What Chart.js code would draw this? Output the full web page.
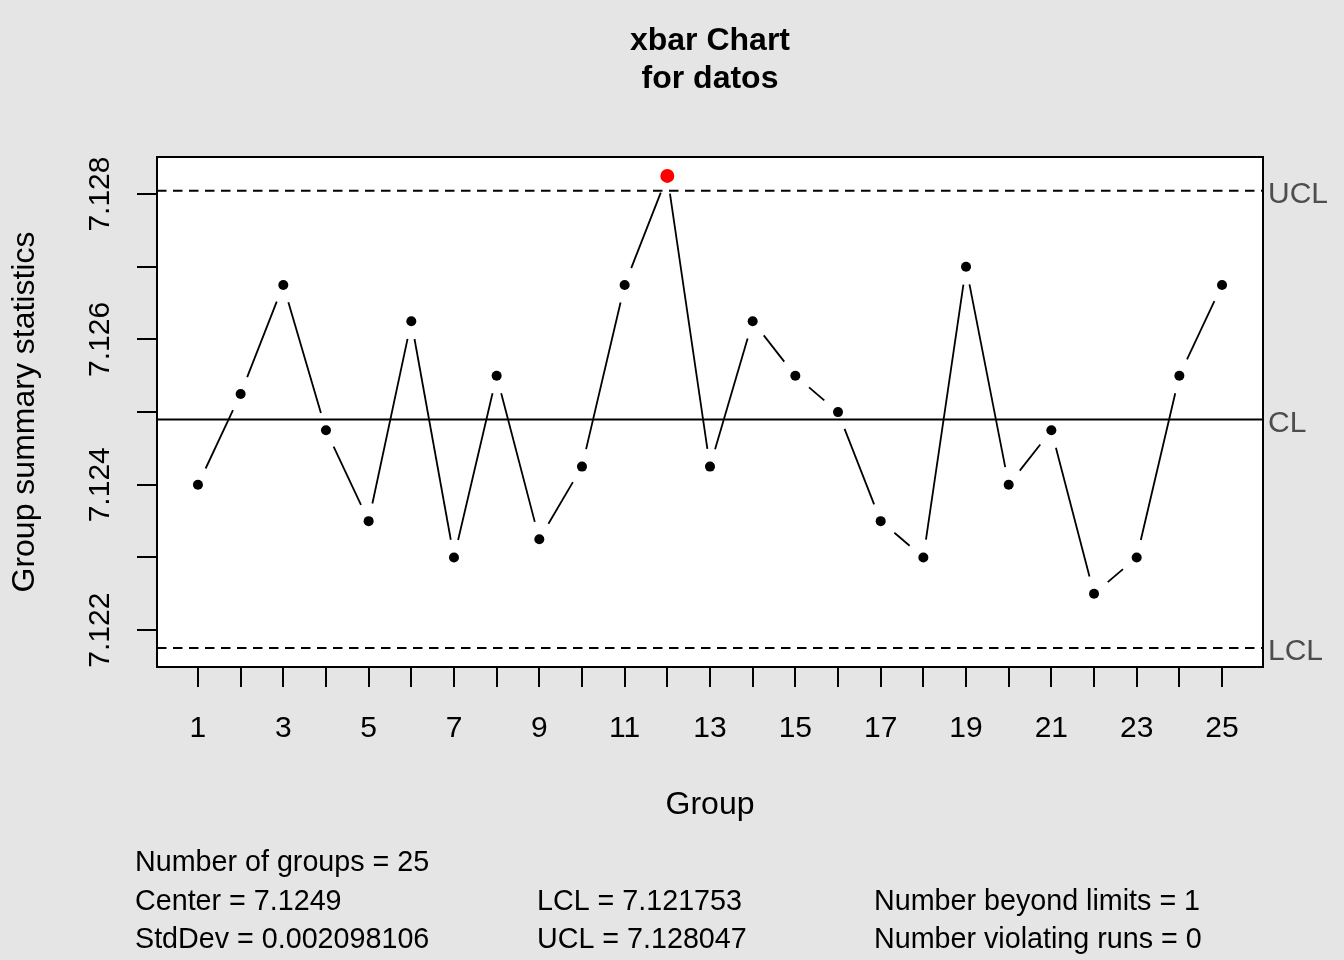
<!DOCTYPE html>
<html><head><meta charset="utf-8">
<script src="https://cdn.jsdelivr.net/npm/chart.js@4"></script>
<style>html,body{margin:0;padding:0;background:#e5e5e5;overflow:hidden;} #wrap{width:1344px;height:960px;}</style>
</head><body><div id="wrap"><canvas id="c" width="1344" height="960"></canvas></div>
<script>
// ---- data ----
const groups = [1,2,3,4,5,6,7,8,9,10,11,12,13,14,15,16,17,18,19,20,21,22,23,24,25];
const groupMeans = [7.124, 7.12525, 7.12675, 7.12475, 7.1235, 7.12625, 7.123, 7.1255, 7.12325, 7.12425,
                    7.12675, 7.12825, 7.12425, 7.12625, 7.1255, 7.125, 7.1235, 7.123, 7.127, 7.124,
                    7.12475, 7.1225, 7.123, 7.1255, 7.12675];
const centerValue = 7.1249;
const lclValue = 7.121753;
const uclValue = 7.128047;
const limitLabels = ['UCL', 'CL', 'LCL'];
const xTickValues = [1,2,3,4,5,6,7,8,9,10,11,12,13,14,15,16,17,18,19,20,21,22,23,24,25];
const xTickLabels = ['1','','3','','5','','7','','9','','11','','13','','15','','17','','19','','21','','23','','25'];
const yTickValues = [7.122, 7.123, 7.124, 7.125, 7.126, 7.127, 7.128];
const yTickLabels = ['7.122', '', '7.124', '', '7.126', '', '7.128'];
const titleLines = ['xbar Chart', 'for datos'];
const xAxisTitle = 'Group';
const yAxisTitle = 'Group summary statistics';
const statsCol1 = ['Number of groups = 25', 'Center = 7.1249', 'StdDev = 0.002098106'];
const statsCol2 = ['', 'LCL = 7.121753', 'UCL = 7.128047'];
const statsCol3 = ['', 'Number beyond limits = 1', 'Number violating runs = 0'];

// ---- ranges (R style 4% extension) ----
const xMin = groups[0] - 0.04 * (groups[groups.length-1] - groups[0]);
const xMax = groups[groups.length-1] + 0.04 * (groups[groups.length-1] - groups[0]);
const yLo = Math.min(lclValue, ...groupMeans), yHi = Math.max(uclValue, ...groupMeans);
const yMin = yLo - 0.04 * (yHi - yLo), yMax = yHi + 0.04 * (yHi - yLo);

const FONT = '"Liberation Sans", Arial, sans-serif';
const beyond = groupMeans.map(v => v > uclValue || v < lclValue);

const bgPlugin = {
  id: 'bg',
  beforeDraw(chart) {
    const {ctx, chartArea: a} = chart;
    ctx.save();
    ctx.fillStyle = '#e5e5e5';
    ctx.fillRect(0, 0, chart.width, chart.height);
    ctx.fillStyle = '#ffffff';
    ctx.fillRect(a.left, a.top, a.right - a.left, a.bottom - a.top);
    ctx.restore();
  },
  beforeDatasetsDraw(chart) {
    // connecting segments with gaps around points (R type "b")
    const meta = chart.getDatasetMeta(0);
    const pts = meta.data;
    const {ctx, chartArea: a} = chart;
    ctx.save();
    ctx.beginPath();
    ctx.rect(a.left, a.top, a.right - a.left, a.bottom - a.top);
    ctx.clip();
    ctx.strokeStyle = '#000';
    ctx.lineWidth = 1.8;
    const gap = 18;
    for (let i = 0; i < pts.length - 1; i++) {
      const p = pts[i], q = pts[i+1];
      const dx = q.x - p.x, dy = q.y - p.y;
      const L = Math.hypot(dx, dy);
      if (L <= 2 * gap) continue;
      const ux = dx / L, uy = dy / L;
      ctx.beginPath();
      ctx.moveTo(p.x + ux * gap, p.y + uy * gap);
      ctx.lineTo(q.x - ux * gap, q.y - uy * gap);
      ctx.stroke();
    }
    ctx.restore();
  },
  afterDraw(chart) {
    const {ctx, chartArea: a} = chart;
    const xs = chart.scales.x, ys = chart.scales.y;
    ctx.save();
    // box
    ctx.strokeStyle = '#000';
    ctx.lineWidth = 2;
    ctx.strokeRect(a.left, a.top, a.right - a.left, a.bottom - a.top);
    // title
    ctx.fillStyle = '#000';
    ctx.textAlign = 'center';
    ctx.textBaseline = 'middle';
    ctx.font = 'bold 32px ' + FONT;
    const cx = (a.left + a.right) / 2;
    ctx.fillText(titleLines[0], cx, 41);
    ctx.fillText(titleLines[1], cx, 79);
    // axis titles
    ctx.font = '32px ' + FONT;
    ctx.fillText(xAxisTitle, cx, 805);
    ctx.save();
    ctx.translate(25, (a.top + a.bottom) / 2);
    ctx.rotate(-Math.PI / 2);
    ctx.fillText(yAxisTitle, 0, 0);
    ctx.restore();
    // y tick labels (rotated)
    ctx.font = '30px ' + FONT;
    yTickValues.forEach((v, i) => {
      if (!yTickLabels[i]) return;
      ctx.save();
      ctx.translate(101, ys.getPixelForValue(v));
      ctx.rotate(-Math.PI / 2);
      ctx.fillText(yTickLabels[i], 0, 0);
      ctx.restore();
    });
    // limit labels
    ctx.fillStyle = '#4d4d4d';
    ctx.textAlign = 'left';
    ctx.font = '30px ' + FONT;
    [uclValue, centerValue, lclValue].forEach((v, i) => {
      ctx.fillText(limitLabels[i], a.right + 5, ys.getPixelForValue(v) + 4);
    });
    // stats
    ctx.fillStyle = '#000';
    ctx.font = '28.7px ' + FONT;
    const rowsY = [863, 902, 940];
    [[statsCol1, 135], [statsCol2, 537], [statsCol3, 874]].forEach(([col, x]) => {
      col.forEach((t, i) => { if (t) ctx.fillText(t, x, rowsY[i]); });
    });
    ctx.restore();
  }
};

const limitLine = (v, dash) => ({
  type: 'line',
  data: [{x: xMin, y: v}, {x: xMax, y: v}],
  borderColor: '#000',
  borderWidth: 2,
  borderDash: dash,
  pointRadius: 0,
  showLine: true,
  fill: false,
  order: 2
});

new Chart(document.getElementById('c'), {
  type: 'scatter',
  data: {
    datasets: [
      {
        data: groups.map((g, i) => ({x: g, y: groupMeans[i]})),
        pointRadius: beyond.map(b => b ? 7 : 5),
        pointBackgroundColor: beyond.map(b => b ? '#ff0000' : '#000000'),
        pointBorderWidth: 0,
        pointBorderColor: 'rgba(0,0,0,0)',
        showLine: false,
        order: 0
      },
      limitLine(uclValue, [9.5, 6.5]),
      limitLine(centerValue, []),
      limitLine(lclValue, [9.5, 6.5])
    ]
  },
  options: {
    responsive: false,
    devicePixelRatio: 1,
    animation: false,
    events: [],
    layout: { padding: { left: 0, right: 81, top: 157, bottom: 0 } },
    plugins: { legend: { display: false }, tooltip: { enabled: false }, title: { display: false } },
    scales: {
      x: {
        type: 'linear',
        min: xMin, max: xMax,
        afterBuildTicks: s => { s.ticks = xTickValues.map(v => ({value: v})); },
        afterFit: s => { s.height = 293; },
        border: { display: false },
        grid: { drawOnChartArea: false, drawTicks: true, tickLength: 20, tickWidth: 2, tickColor: '#000', color: '#000', lineWidth: 2 },
        ticks: {
          autoSkip: false, maxRotation: 0, minRotation: 0,
          padding: 24,
          color: '#000',
          font: { family: FONT, size: 30 },
          callback: (v, i) => xTickLabels[i]
        }
      },
      y: {
        type: 'linear',
        min: yMin, max: yMax,
        afterBuildTicks: s => { s.ticks = yTickValues.map(v => ({value: v})); },
        afterFit: s => { s.width = 157; },
        border: { display: false },
        grid: { drawOnChartArea: false, drawTicks: true, tickLength: 20, tickWidth: 2, tickColor: '#000', color: '#000', lineWidth: 2 },
        ticks: { display: false }
      }
    }
  },
  plugins: [bgPlugin]
});
</script></body></html>
